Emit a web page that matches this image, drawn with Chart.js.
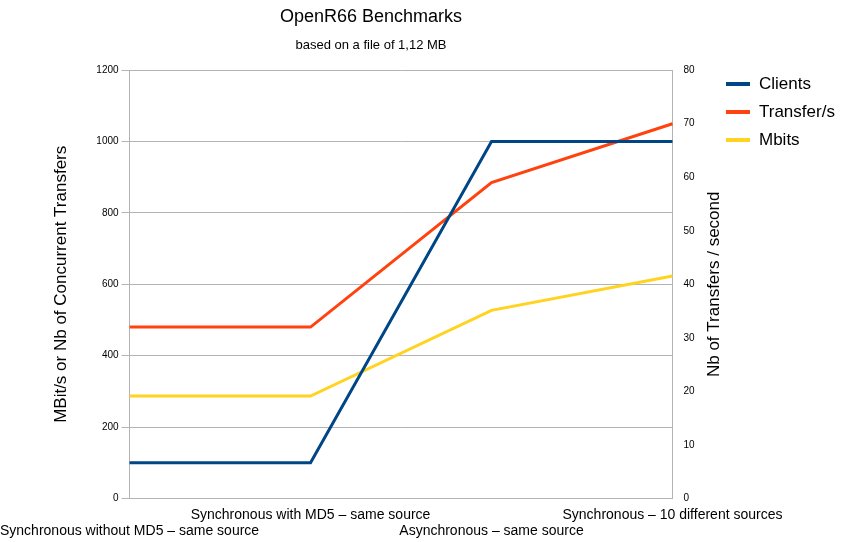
<!DOCTYPE html>
<html><head><meta charset="utf-8">
<script src="https://cdn.jsdelivr.net/npm/chart.js@4"></script>
<style>body{margin:0;background:#fff}#w{width:850px;height:542px;position:relative}
#lg{position:absolute;left:726px;top:70px;font-family:"Liberation Sans",Arial,sans-serif;font-size:17px}
#lg div{height:28px;display:flex;align-items:center}
#lg span{display:inline-block;width:24px;height:4px;margin-right:9px}</style>
</head><body><div id="w"><canvas id="c"></canvas><div id="lg"></div></div>
<script>
const categories = ["Synchronous without MD5 – same source","Synchronous with MD5 – same source","Asynchronous – same source","Synchronous – 10 different sources"];
const seriesNames = ['Clients','Transfer/s','Mbits'];
const clients = [100,100,1000,1000];
const transfers = [32,32,59,70];
const mbits = [287,287,527,623];
const colors = ['#004586','#ff420e','#ffd320'];
const labels = categories.map((c,i)=> i%2===0 ? ['',c] : [c,'']);
document.getElementById('lg').innerHTML = seriesNames.map((n,i)=>`<div><span style="background:${colors[i]}"></span>${n}</div>`).join('');
Chart.defaults.font.family = '"Liberation Sans", Arial, sans-serif';
Chart.defaults.color = '#000';
const rTitle = {id:'rTitle',afterDraw(ch){const s=ch.scales.y1,c=ch.ctx;c.save();
 c.translate(s.right-12,(ch.chartArea.top+ch.chartArea.bottom)/2);c.rotate(-Math.PI/2);
 c.font='17px "Liberation Sans", Arial';c.fillStyle='#000';c.textAlign='center';c.textBaseline='middle';
 c.fillText('Nb of Transfers / second',0,0);c.restore();}};
new Chart(document.getElementById('c'),{
 type:'line',
 data:{labels:labels,datasets:[
  {label:seriesNames[0],data:clients,borderColor:colors[0],borderWidth:3,pointRadius:0,yAxisID:'y'},
  {label:seriesNames[1],data:transfers,borderColor:colors[1],borderWidth:3,pointRadius:0,yAxisID:'y1'},
  {label:seriesNames[2],data:mbits,borderColor:colors[2],borderWidth:3,pointRadius:0,yAxisID:'y'}
 ]},
 plugins:[rTitle],
 options:{responsive:true,maintainAspectRatio:false,animation:false,
  layout:{padding:{left:16,right:124,top:0,bottom:2}},
  plugins:{
   title:{display:true,text:'OpenR66 Benchmarks',font:{size:18,weight:'normal'},padding:{top:6,bottom:10}},
   subtitle:{display:true,text:'based on a file of 1,12 MB',font:{size:13},padding:{bottom:17}},
   legend:{display:false}
  },
  scales:{
   x:{offset:false,grid:{display:false},border:{color:'#b3b3b3'},
      ticks:{maxRotation:0,autoSkip:false,font:{size:14},padding:0}},
   y:{position:'left',min:0,max:1200,ticks:{stepSize:200,font:{size:10},callback:v=>String(v)},grid:{color:'#b3b3b3'},border:{color:'#b3b3b3'},
      title:{display:true,text:'MBit/s or Nb of Concurrent Transfers',font:{size:17},padding:{bottom:22}}},
   y1:{position:'right',min:0,max:80,ticks:{stepSize:10,font:{size:10}},grid:{display:false},border:{color:'#b3b3b3'},
      title:{display:true,text:'Nb of Transfers / second',color:'rgba(0,0,0,0)',font:{size:17}}}
  }
 }
});
</script></body></html>
